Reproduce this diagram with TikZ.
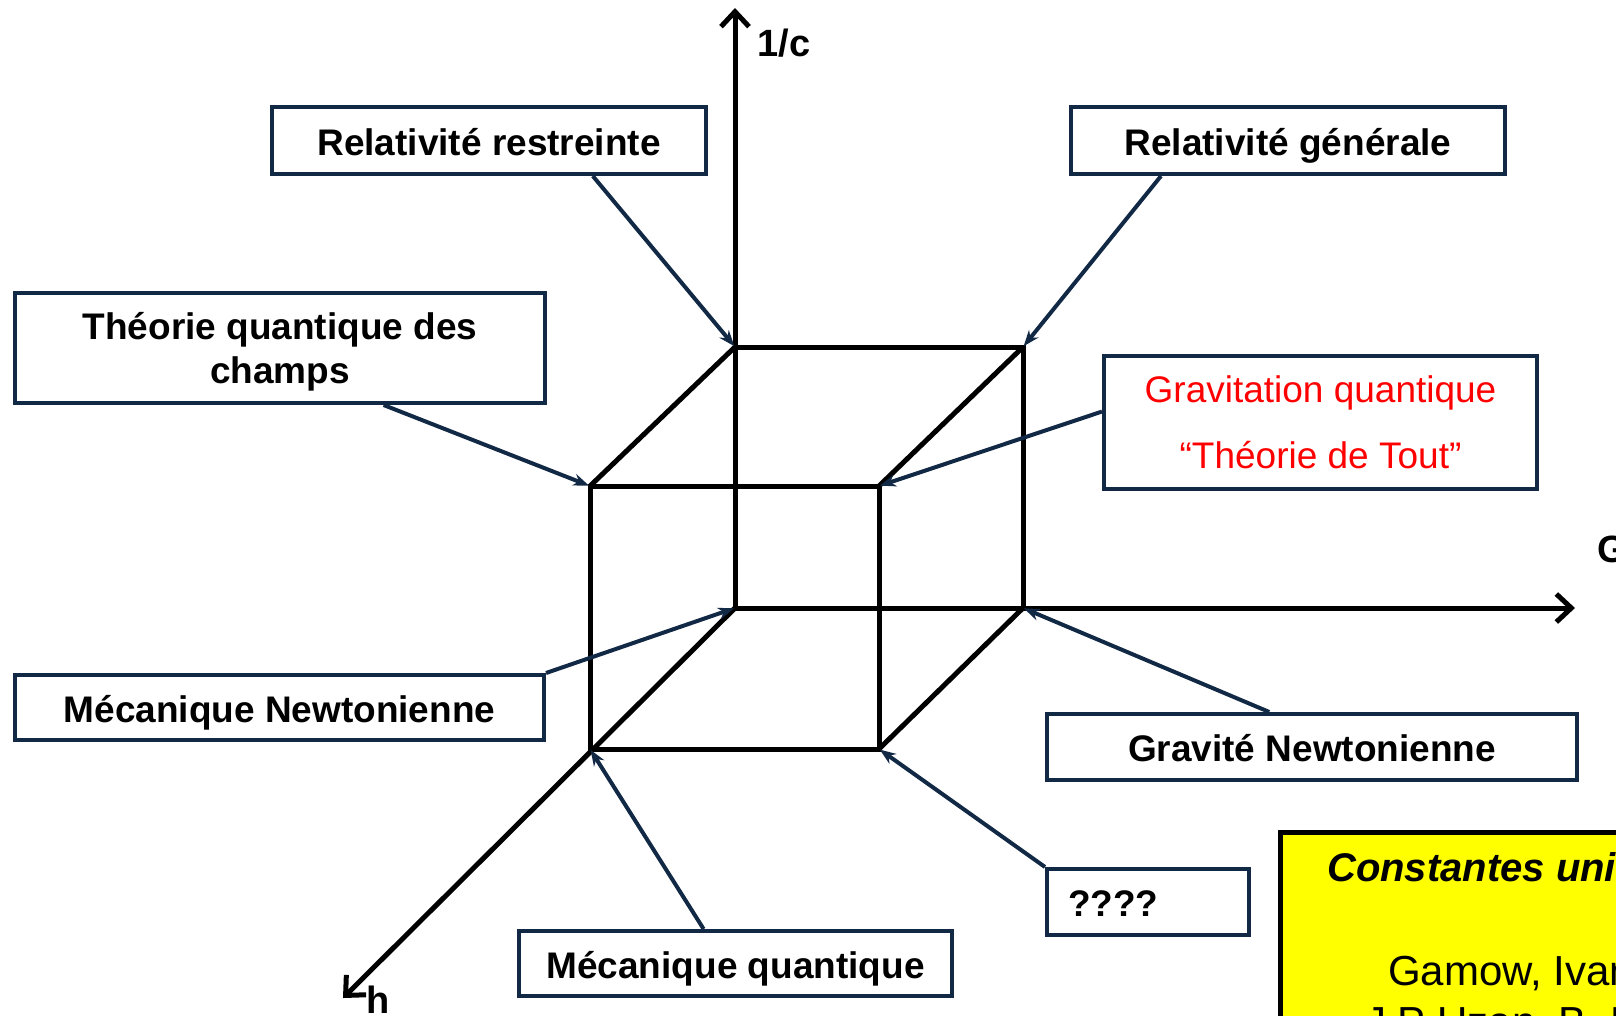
\documentclass[tikz,border=0pt]{standalone}
\usepackage{fontspec}
\setmainfont{Liberation Sans}
\usepackage{tikz}
\usetikzlibrary{arrows.meta,calc}

\definecolor{navy}{RGB}{18,41,69}
\definecolor{gqred}{RGB}{255,0,0}
\definecolor{cuyellow}{RGB}{255,255,0}

\tikzset{
  labelbox/.style={draw=navy, line width=4pt, fill=white, inner sep=0pt,
    align=center, font=\fontsize{37}{44}\selectfont\bfseries},
  oneline/.style={text height=29, text depth=0},
  pointer/.style={navy, line width=4pt, -{Stealth[length=16pt,width=12pt]}, shorten >=1pt},
  axis/.style={line width=5pt, -{Straight Barb[length=15pt,width=28pt]}},
  cubeedge/.style={line width=5pt},
}

\begin{document}
\begin{tikzpicture}[x=1pt,y=-1pt]
  \useasboundingbox (0,0) rectangle (1616,1015);
  \clip (0,0) rectangle (1616,1015);

  %Cube corners
  \coordinate (O) at (735,608);
  \coordinate (backBR) at (1023,608);
  \coordinate (backTR) at (1023,347);
  \coordinate (backTL) at (735,347);
  \coordinate (frontBL) at (590,749);
  \coordinate (frontBR) at (879,749);
  \coordinate (frontTR) at (879,486);
  \coordinate (frontTL) at (590,486);

  %Axes
  \draw[axis] (O) -- (735,8) coordinate (cTip);
  \draw[axis] (O) -- (1575,608) coordinate (GTip);
  \draw[axis] (O) -- (343,998) coordinate (hTip);
  \node[anchor=west, font=\fontsize{38}{44}\selectfont\bfseries] (cLab) at (754,43) {1/c};
  \node[anchor=west, font=\fontsize{38}{44}\selectfont\bfseries] (GLab) at (1594,549) {G};
  \node[anchor=base west, inner sep=0pt, font=\fontsize{38}{44}\selectfont\bfseries] (hLab) at (366,1013) {h};

  %Cube
  \draw[cubeedge] (backBR) -- (backTR) -- (backTL);
  \draw[cubeedge] (frontBL) -- (frontBR) -- (frontTR) -- (frontTL) -- cycle;
  \foreach \c in {TL, TR, BR}
    \draw[cubeedge] (back\c) -- (front\c);

  %Boxes
  \node[labelbox, oneline, minimum width=434, minimum height=67] (rr) at (489,140.5) {Relativité restreinte};
  \node[labelbox, oneline, minimum width=434, minimum height=67] (rg) at (1288,140.5) {Relativité générale};
  \node[labelbox, text depth=0, minimum width=530, minimum height=110] (tqc) at (280,348) {Théorie quantique des\\champs};
  \node[labelbox, minimum width=433, minimum height=133, text=gqred,
        font=\fontsize{37}{66}\selectfont] (gq) at (1320.5,422.5) {Gravitation quantique\\“Théorie de Tout”};
  \node[labelbox, oneline, minimum width=529, minimum height=65] (mn) at (279.5,707.5) {Mécanique Newtonienne};
  \node[labelbox, oneline, minimum width=530, minimum height=66] (gn) at (1312,747) {Gravité Newtonienne};
  \node[labelbox, oneline, minimum height=66, text width=160, inner xsep=21, align=left] (qq) at (1148,902) {????};
  \node[labelbox, oneline, minimum width=433, minimum height=65] (mq) at (735.5,963.5) {Mécanique quantique};

  %Pointers
  \draw[pointer] ($(rr.south west)!0.737!(rr.south east)$) -- (backTL);
  \draw[pointer] ($(rg.south west)!0.21!(rg.south east)$) -- (backTR);
  \draw[pointer] ($(tqc.south west)!0.694!(tqc.south east)$) -- (frontTL);
  \draw[pointer] ($(gq.north west)!0.42!(gq.south west)$) -- (frontTR);
  \draw[pointer] (mn.north east) -- (O);
  \draw[pointer] ($(gn.north west)!0.42!(gn.north east)$) -- (backBR);
  \draw[pointer] (qq.north west) -- (frontBR);
  \draw[pointer] ($(mq.north west)!0.427!(mq.north east)$) -- (frontBL);

  %Constantes box
  \draw[line width=5pt, fill=cuyellow] (1280,832) rectangle (1720,1120);
  \node[anchor=base west, inner sep=0pt, font=\fontsize{40}{44}\selectfont\bfseries\itshape] (cu) at (1327,881) {Constantes uni};
  \node[anchor=base west, inner sep=0pt, font=\fontsize{42}{44}\selectfont] (gam) at (1388,985) {Gamow, Ivan};
  \node[anchor=base west, inner sep=0pt, font=\fontsize{42}{44}\selectfont] (uzan) at (1365,1036) {J.P Uzan, B. Le};
\end{tikzpicture}
\end{document}
